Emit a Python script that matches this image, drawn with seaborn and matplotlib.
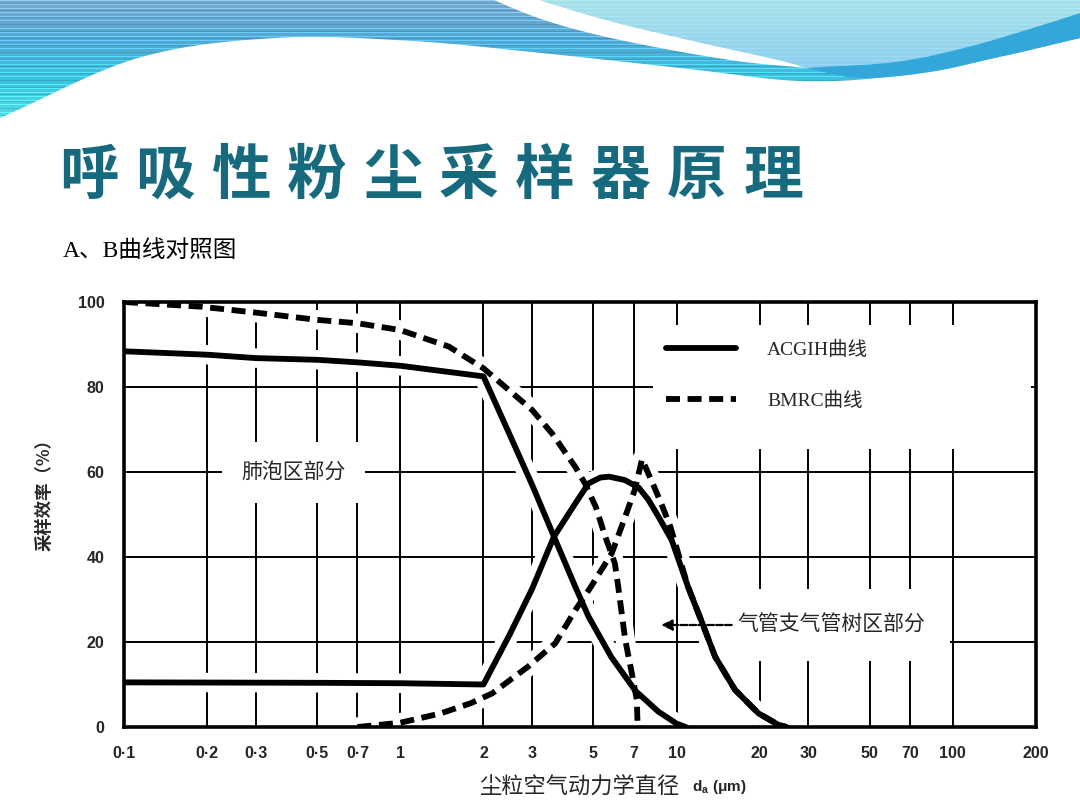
import numpy as np
import matplotlib
matplotlib.use("Agg")
import matplotlib.pyplot as plt
import seaborn as sns
from matplotlib.path import Path
from matplotlib.patches import PathPatch, Rectangle
from matplotlib.lines import Line2D

# ---------------- data ----------------
x_ticks = [0.1, 0.2, 0.3, 0.5, 0.7, 1, 2, 3, 5, 7, 10, 20, 30, 50, 70, 100, 200]
x_tick_labels = ['0·1', '0·2', '0·3', '0·5', '0·7', '1', '2', '3', '5', '7',
                 '10', '20', '30', '50', '70', '100', '200']
y_ticks = [0, 20, 40, 60, 80, 100]

# ACGIH alveolar (solid, upper)
acgih_alv_x = [0.1, 0.2, 0.3, 0.5, 0.7, 1.0, 2.0, 2.5, 3.0, 3.6, 4.3, 4.8, 5.8, 7.1, 8.6, 10.0, 10.8]
acgih_alv_y = [88.4, 87.6, 86.8, 86.4, 85.8, 85.0, 82.5, 68.5, 57.0, 44.8, 33.0, 26.0, 16.5, 8.5, 3.6, 0.8, 0.0]

# ACGIH tracheobronchial (solid, lower bell)
acgih_tb_x = [0.1, 0.5, 1.0, 2.0, 2.5, 3.0, 3.6, 4.3, 4.8, 5.3, 5.7, 6.5, 7.3, 7.9, 8.6, 9.6, 11.0,
              12.4, 13.8, 16.3, 19.8, 23.4, 25.0]
acgih_tb_y = [10.5, 10.4, 10.3, 10.0, 22.0, 32.5, 44.8, 52.6, 57.3, 58.7, 58.9, 58.1, 56.3, 53.5,
              49.5, 44.0, 33.0, 24.4, 16.5, 8.7, 3.2, 0.5, 0.0]

# BMRC alveolar (dashed, upper)
bmrc_alv_x = [0.1, 0.19, 0.31, 0.5, 0.7, 1.0, 1.5, 2.0, 2.47, 3.0, 3.54, 4.3, 4.66, 5.1, 5.52,
              5.98, 6.15, 6.52, 6.89, 7.18, 7.23]
bmrc_alv_y = [100.0, 98.9, 97.4, 95.8, 95.0, 93.4, 89.5, 84.4, 79.3, 74.6, 69.1, 61.2, 57.3, 51.8,
              44.8, 38.5, 33.0, 20.5, 12.6, 6.4, 0.0]

# BMRC tracheobronchial (dashed, lower)
bmrc_tb_x = [0.7, 1.0, 1.4, 1.8, 2.15, 2.9, 3.64, 4.3, 4.9, 5.83, 6.52, 7.06, 7.5, 8.3, 8.9, 9.5,
             11.0, 12.4, 13.8, 16.3, 19.8, 23.4, 25.0]
bmrc_tb_y = [0.0, 1.0, 3.2, 5.6, 7.9, 14.2, 19.7, 27.5, 33.0, 40.9, 49.5, 55.8, 63.0, 56.5, 51.8,
             47.1, 33.0, 24.4, 16.5, 8.7, 3.2, 0.5, 0.0]

legend_labels = ['ACGIH曲线', 'BMRC曲线']

# ---------------- style ----------------
sns.set_style("white")
plt.rcParams['font.family'] = ['Liberation Sans', 'Noto Sans CJK SC', 'DejaVu Sans']
CJK = ['Noto Sans CJK SC', 'DejaVu Sans']
SERIF = ['Liberation Serif', 'Noto Sans CJK SC']

W, H = 1080, 810
fig = plt.figure(figsize=(10.8, 8.1), dpi=100)
fig.patch.set_facecolor('white')

# ---------------- background slide (pixel coordinates) ----------------
bg = fig.add_axes([0, 0, 1, 1], zorder=-10)
bg.set_xlim(0, W)
bg.set_ylim(H, 0)
bg.axis('off')


def catmull(pts, n=40):
    P = np.array(pts, float)
    P = np.vstack([2 * P[0] - P[1], P, 2 * P[-1] - P[-2]])
    out = []
    for i in range(1, len(P) - 2):
        p0, p1, p2, p3 = P[i - 1], P[i], P[i + 1], P[i + 2]
        t = np.linspace(0, 1, n, endpoint=False)[:, None]
        out.append(0.5 * ((2 * p1) + (-p0 + p2) * t + (2 * p0 - 5 * p1 + 4 * p2 - p3) * t ** 2
                          + (-p0 + 3 * p1 - 3 * p2 + p3) * t ** 3))
    out.append(P[-2][None, :])
    return np.vstack(out)


lower_edge = catmull([(0, 118), (138, 58), (275, 38), (413, 41), (551, 54), (689, 69),
                      (800, 81), (895, 76), (999, 57), (1080, 38)])
header_poly = np.vstack([[(0, -5), (W, -5)], lower_edge[::-1]])
header_patch = PathPatch(Path(header_poly), transform=bg.transData, facecolor='none', edgecolor='none')
bg.add_patch(header_patch)

rows = 130
yy = np.arange(rows)
stops_y = [0, 40, 80, 125]
stops_c = np.array([[0.47, 0.66, 0.80], [0.32, 0.66, 0.83], [0.24, 0.76, 0.88], [0.36, 0.88, 0.93]])
grad = np.stack([np.interp(yy, stops_y, stops_c[:, k]) for k in range(3)], axis=1)
stripe = np.ones(rows)
stripe[yy % 4 == 0] = 1.22
stripe[yy % 7 == 3] = 0.88
grad = np.clip(grad * stripe[:, None], 0, 1)
img = np.repeat(grad[:, None, :], 20, axis=1)
im = bg.imshow(img, extent=(0, W, rows, 0), aspect='auto', origin='upper', zorder=1)
im.set_clip_path(header_patch)

# light lens and the blue band under it
inner = catmull([(523, -5), (606, 20), (689, 40), (778, 60), (806, 68)])
lens_bot = catmull([(806, 68), (895, 62), (964, 48), (1033, 28), (1080, 13)])
band_bot = catmull([(806, 68), (860, 78), (930, 72), (999, 57), (1080, 38)])
band_poly = np.vstack([lens_bot, [(1085, 13), (1085, 38)], band_bot[::-1]])
bg.add_patch(PathPatch(Path(band_poly), facecolor='#33a7d9', edgecolor='none', zorder=2))

lens_poly = np.vstack([inner, lens_bot, [(W + 5, 13), (W + 5, -5)]])
lens_patch = PathPatch(Path(lens_poly), transform=bg.transData, facecolor='none', edgecolor='none')
bg.add_patch(lens_patch)
lrows = 75
ly = np.arange(lrows)
lgrad = np.stack([np.interp(ly, [0, 74], [0.66, 0.55]),
                  np.interp(ly, [0, 74], [0.88, 0.80]),
                  np.interp(ly, [0, 74], [0.91, 0.93])], axis=1)
ls = np.ones(lrows)
ls[ly % 4 == 0] = 1.05
lgrad = np.clip(lgrad * ls[:, None], 0, 1)
im2 = bg.imshow(np.repeat(lgrad[:, None, :], 10, axis=1), extent=(500, W, lrows, 0),
                aspect='auto', origin='upper', zorder=3)
im2.set_clip_path(lens_patch)

# white swoosh
outer = catmull([(482, -5), (544, 20), (620, 40), (730, 60), (806, 68)])
sw_poly = np.vstack([outer, inner[::-1]])
bg.add_patch(PathPatch(Path(sw_poly), facecolor='white', edgecolor='none', zorder=4))

bg.set_xlim(0, W)
bg.set_ylim(H, 0)

# title, one glyph at a time for the wide spacing
title = '呼吸性粉尘采样器原理'
for i, ch in enumerate(title):
    bg.text(89 + i * 76.0, 177, ch, ha='center', va='center', fontsize=43,
            fontweight='bold', color='#176a7e', family=CJK, zorder=5)

bg.text(63, 251, 'A、B曲线对照图', ha='left', va='center', fontsize=17,
        family=SERIF, color='black', zorder=5)

# ---------------- main chart ----------------
ax = fig.add_axes([124 / W, 1 - 727 / H, (1036 - 124) / W, (727 - 302) / H])
ax.set_xscale('log')
ax.set_xlim(0.1, 200)
ax.set_ylim(0, 100)
ax.set_xticks(x_ticks)
ax.set_xticklabels(x_tick_labels)
ax.xaxis.set_minor_locator(matplotlib.ticker.NullLocator())
ax.set_yticks(y_ticks)
ax.set_yticklabels([str(v) for v in y_ticks])
ax.tick_params(length=0, pad=14, labelsize=11.5)
for lab in ax.get_xticklabels() + ax.get_yticklabels():
    lab.set_fontweight('bold')
    lab.set_family(['Liberation Sans Narrow', 'Liberation Sans'])
ax.set_axisbelow(True)
ax.grid(True, which='major', color='black', lw=1.4)
for sp in ax.spines.values():
    sp.set_color('black')
    sp.set_linewidth(2.6)
    sp.set_zorder(6)

series = [
    (acgih_alv_x, acgih_alv_y, '-'),
    (acgih_tb_x, acgih_tb_y, '-'),
    (bmrc_alv_x, bmrc_alv_y, (0, (2.4, 1.3))),
    (bmrc_tb_x, bmrc_tb_y, (0, (2.4, 1.3))),
]
# white knock-out halos first
for xs, ys, _ in series:
    sns.lineplot(x=xs, y=ys, ax=ax, color='white', linewidth=14, estimator=None,
                 sort=False, legend=False, zorder=1.5)
for xs, ys, lst in series:
    sns.lineplot(x=xs, y=ys, ax=ax, color='black', linewidth=4.2, linestyle=lst,
                 estimator=None, sort=False, legend=False, zorder=2.2)

# white area behind legend
ax.add_patch(Rectangle((0.58, 0.655), 0.415, 0.29, transform=ax.transAxes,
                       facecolor='white', edgecolor='none', zorder=1.2))
handles = [Line2D([], [], color='black', lw=4.2),
           Line2D([], [], color='black', lw=4.2, ls=(0, (2.4, 1.3)))]
leg = ax.legend(handles, legend_labels, loc='upper left', bbox_to_anchor=(0.575, 0.95),
                frameon=False, handlelength=3.6, handletextpad=1.6, labelspacing=1.7,
                prop={'family': SERIF, 'size': 14})
leg.set_zorder(7)

# annotations (white boxes sit under the curves)
ax.text(0.41, 59.8, '肺泡区部分', ha='center', va='center', fontsize=15, family=CJK,
        zorder=1.3, bbox=dict(facecolor='white', edgecolor='none', pad=14))
ax.text(16.6, 24, '气管支气管树区部分', ha='left', va='center', fontsize=15, family=CJK,
        zorder=1.3, bbox=dict(facecolor='white', edgecolor='none', pad=18))
ax.annotate('', xy=(8.6, 24), xytext=(16.2, 24),
            arrowprops=dict(arrowstyle='-|>', color='black', lw=1.6, mutation_scale=16,
                            linestyle=(0, (3, 1))), zorder=4)

# axis labels
ax.set_ylabel('采样效率（%）', fontsize=12.5, fontweight='bold', family=CJK, va='center')
ax.yaxis.set_label_coords(-0.087, 0.557)
ax.set_xlabel('尘粒空气动力学直径', fontsize=16, family=CJK, va='center')
ax.xaxis.set_label_coords(0.499, -0.141)
ax.text(0.623, -0.141, r'd$_\mathregular{a}$ (μm)', transform=ax.transAxes, ha='left', va='center',
        fontsize=11, fontweight='bold', family=['Liberation Sans', 'DejaVu Sans'])

fig.savefig('out.png', dpi=100, facecolor='white')
